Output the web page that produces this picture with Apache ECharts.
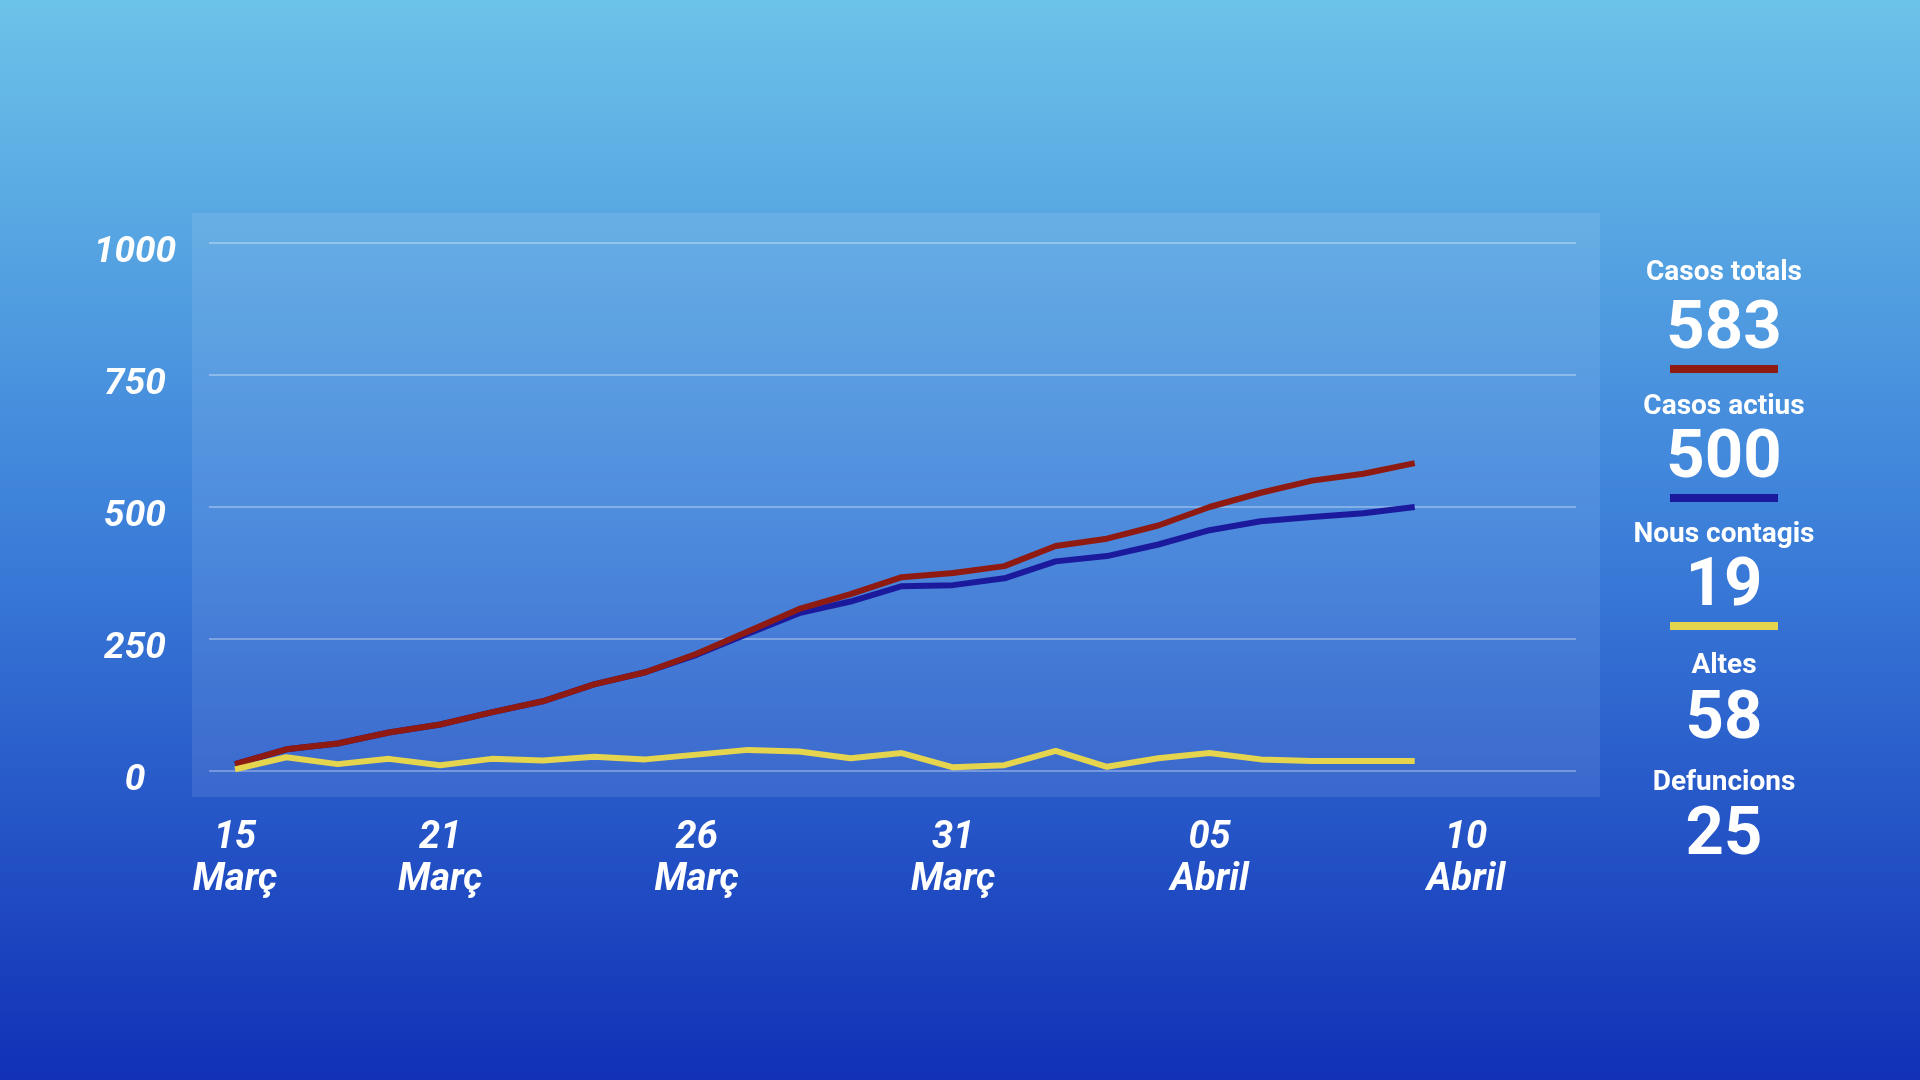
<!DOCTYPE html>
<html>
<head>
<meta charset="utf-8">
<script src="https://cdn.jsdelivr.net/npm/echarts@6/dist/echarts.min.js"></script>
<style>
html,body{margin:0;padding:0;width:1920px;height:1080px;overflow:hidden;}
#chart{width:1920px;height:1080px;}
</style>
</head>
<body>
<div id="chart"></div>
<script>
// ---- data ----
const categories = ['17 Març','18 Març','19 Març','20 Març','21 Març','22 Març','23 Març','24 Març','25 Març','26 Març','27 Març','28 Març','29 Març','30 Març','31 Març','01 Abril','02 Abril','03 Abril','04 Abril','05 Abril','06 Abril','07 Abril','08 Abril','09 Abril','10 Abril'];
const tickLabels = ['15\nMarç','','','','21\nMarç','','','','','26\nMarç','','','','','31\nMarç','','','','','05\nAbril','','','','','10\nAbril'];
const casosTotals = [13, 41, 52, 73, 88, 111, 132, 164, 187, 222, 264, 307, 335, 367, 375, 388, 426, 440, 465, 500, 527, 550, 563, 583];
const casosActius = [13, 41, 52, 73, 88, 111, 132, 164, 187, 220, 260, 299, 321, 350, 352, 365, 397, 407, 429, 456, 473, 481, 488, 500];
const nousContagis = [3, 26, 13, 23, 11, 23, 20, 27, 22, 31, 40, 37, 24, 34, 7, 11, 38, 8, 24, 34, 22, 19, 19, 19];
const yMin = 0, yMax = 1000, yStep = 250;
const summaryNames = ['Casos totals','Casos actius','Nous contagis','Altes','Defuncions'];
const summaryValues = [583, 500, 19, 58, 25];

// ---- styles / layout ----
const colTotals = '#8E1A12', colActius = '#1C1A9C', colNous = '#E5D44E';
const summaryBarColors = [colTotals, colActius, colNous, null, null];
const summaryCenterX = 1724;
const summaryNameY = [273, 407, 535, 666, 783];
const summaryValueY = [331, 460, 588, 721, 837];
const summaryBarY = [369, 498, 626];

const chart = echarts.init(document.getElementById('chart'));

const graphics = [{
  type: 'rect', z: -10,
  shape: {x: 192, y: 213, width: 1408, height: 584},
  style: {fill: 'rgba(255,255,255,0.09)'}
}];
summaryNames.forEach((n, i) => {
  graphics.push({
    type: 'text', x: summaryCenterX, y: summaryNameY[i],
    style: {text: n, fill: '#ffffff', font: 'bold 28px Roboto', align: 'center', verticalAlign: 'middle', textAlign: 'center', textVerticalAlign: 'middle'}
  });
  graphics.push({
    type: 'text', x: summaryCenterX, y: summaryValueY[i],
    style: {text: String(summaryValues[i]), fill: '#ffffff', font: 'bold 67px Roboto', align: 'center', verticalAlign: 'middle', textAlign: 'center', textVerticalAlign: 'middle'}
  });
  if (summaryBarColors[i]) {
    graphics.push({
      type: 'rect', shape: {x: summaryCenterX - 54, y: summaryBarY[i] - 4, width: 108, height: 8},
      style: {fill: summaryBarColors[i]}
    });
  }
});

const option = {
  backgroundColor: {
    type: 'linear', x: 0, y: 0, x2: 0, y2: 1,
    colorStops: [
      {offset: 0, color: '#6CC3E9'},
      {offset: 0.5, color: '#3B7ED9'},
      {offset: 1, color: '#1130B6'}
    ]
  },
  animation: false,
  graphic: graphics,
  grid: [
    {left: 209, right: 344, top: 243, bottom: 309},
    {left: 235, right: 454, top: 243, bottom: 309}
  ],
  xAxis: [
    {gridIndex: 0, type: 'value', min: 0, max: 1, show: false},
    {
      gridIndex: 1, type: 'category', data: categories, boundaryGap: false,
      axisLine: {show: false}, axisTick: {show: false}, splitLine: {show: false},
      axisLabel: {
        interval: 0, margin: 46, color: '#ffffff',
        fontFamily: 'Roboto', fontWeight: 'bold', fontStyle: 'italic', fontSize: 38, lineHeight: 42,
        formatter: (v, idx) => tickLabels[idx]
      }
    }
  ],
  yAxis: [
    {
      gridIndex: 0, type: 'value', min: yMin, max: yMax, interval: yStep,
      axisLine: {show: false}, axisTick: {show: false},
      splitLine: {show: true, lineStyle: {color: 'rgba(255,255,255,0.3)', width: 2}},
      axisLabel: {
        margin: 74, align: 'center', verticalAlign: 'middle', color: '#ffffff', lineHeight: 20,
        fontFamily: 'Roboto', fontWeight: 'bold', fontStyle: 'italic', fontSize: 37,
        formatter: v => '\n' + String(v)
      }
    },
    {gridIndex: 1, type: 'value', min: yMin, max: yMax, show: false, splitLine: {show: false}}
  ],
  series: [
    {
      name: 'Casos actius', type: 'line', xAxisIndex: 1, yAxisIndex: 1, data: casosActius,
      symbol: 'none', lineStyle: {color: colActius, width: 6}, z: 3
    },
    {
      name: 'Casos totals', type: 'line', xAxisIndex: 1, yAxisIndex: 1, data: casosTotals,
      symbol: 'none', lineStyle: {color: colTotals, width: 6}, z: 4
    },
    {
      name: 'Nous contagis', type: 'line', xAxisIndex: 1, yAxisIndex: 1, data: nousContagis,
      symbol: 'none', lineStyle: {color: colNous, width: 6}, z: 5
    }
  ]
};
chart.setOption(option);
</script>
</body>
</html>
